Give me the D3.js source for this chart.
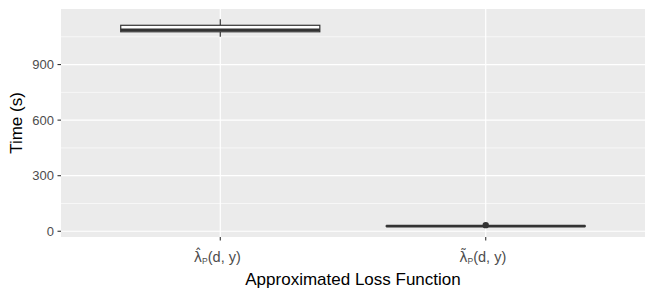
<!DOCTYPE html>
<html>
<head>
<meta charset="utf-8">
<script src="https://cdn.jsdelivr.net/npm/d3@7"></script>
<style>
  body { margin: 0; background: #fff; }
  svg { display: block; }
</style>
</head>
<body>
<div id="chart"></div>
<script>
// categories: lambda with a combining hat / tilde
const categories = ["λ\u0302", "λ\u0303"];
// box statistics (seconds)
const whiskerLow = [1050, 25];
const q1 = [1077, 27];
const median = [1087, 28];
const q3 = [1112, 29];
const whiskerHigh = [1144, 31];
const outliers = [[], [33]];
const yTicks = [0, 300, 600, 900];
const yMinor = [150, 450, 750, 1050];

const width = 654;
const height = 298;
const margin = { top: 9, right: 9, bottom: 61, left: 61 };
const font = "'Liberation Sans', Arial, Helvetica, sans-serif";

const svg = d3.select("#chart").append("svg")
  .attr("width", width)
  .attr("height", height)
  .attr("font-family", font);

const x = d3.scalePoint()
  .domain(categories)
  .range([margin.left, width - margin.right])
  .padding(0.6); // ggplot discrete expansion of 0.6 each side

const dataMin = d3.min(whiskerLow);
const dataMax = d3.max(whiskerHigh);
const pad = (dataMax - dataMin) * 0.05;
const y = d3.scaleLinear()
  .domain([dataMin - pad, dataMax + pad])
  .range([height - margin.bottom, margin.top]);

const step = x.step();
const boxW = step * 0.75;

// panel
svg.append("rect")
  .attr("x", margin.left)
  .attr("y", margin.top)
  .attr("width", width - margin.left - margin.right)
  .attr("height", height - margin.top - margin.bottom)
  .attr("fill", "#ebebeb");

const grid = svg.append("g").attr("stroke", "#fff");
grid.selectAll(".minor").data(yMinor).join("line")
  .attr("x1", margin.left).attr("x2", width - margin.right)
  .attr("y1", (d) => y(d)).attr("y2", (d) => y(d))
  .attr("stroke-width", 0.6);
grid.selectAll(".major").data(yTicks).join("line")
  .attr("x1", margin.left).attr("x2", width - margin.right)
  .attr("y1", (d) => y(d)).attr("y2", (d) => y(d))
  .attr("stroke-width", 1.2);
grid.selectAll(".vert").data(categories).join("line")
  .attr("x1", (d) => x(d)).attr("x2", (d) => x(d))
  .attr("y1", margin.top).attr("y2", height - margin.bottom)
  .attr("stroke-width", 1.2);

// boxes
const boxes = svg.append("g")
  .selectAll("g")
  .data(categories)
  .join("g");

boxes.append("line")
  .attr("x1", (d) => x(d)).attr("x2", (d) => x(d))
  .attr("y1", (d, i) => y(whiskerLow[i])).attr("y2", (d, i) => y(q1[i]))
  .attr("stroke", "#333").attr("stroke-width", 1.2);
boxes.append("line")
  .attr("x1", (d) => x(d)).attr("x2", (d) => x(d))
  .attr("y1", (d, i) => y(q3[i])).attr("y2", (d, i) => y(whiskerHigh[i]))
  .attr("stroke", "#333").attr("stroke-width", 1.2);
boxes.append("rect")
  .attr("x", (d) => x(d) - boxW / 2)
  .attr("width", boxW)
  .attr("y", (d, i) => y(q3[i]))
  .attr("height", (d, i) => Math.max(0, y(q1[i]) - y(q3[i])))
  .attr("fill", "#fff")
  .attr("stroke", "#333").attr("stroke-width", 1.2);
boxes.append("line")
  .attr("x1", (d) => x(d) - boxW / 2).attr("x2", (d) => x(d) + boxW / 2)
  .attr("y1", (d, i) => y(median[i])).attr("y2", (d, i) => y(median[i]))
  .attr("stroke", "#333").attr("stroke-width", 2.6);
boxes.selectAll("circle")
  .data((d, i) => outliers[i].map((v) => ({ cat: d, v })))
  .join("circle")
  .attr("cx", (d) => x(d.cat))
  .attr("cy", (d) => y(d.v))
  .attr("r", 3.2)
  .attr("fill", "#333");

// y axis
const yAxis = svg.append("g");
yAxis.selectAll("line").data(yTicks).join("line")
  .attr("x1", margin.left - 3.5).attr("x2", margin.left)
  .attr("y1", (d) => y(d)).attr("y2", (d) => y(d))
  .attr("stroke", "#333").attr("stroke-width", 1.1);
yAxis.selectAll("text").data(yTicks).join("text")
  .attr("x", margin.left - 7)
  .attr("y", (d) => y(d))
  .attr("dy", "0.35em")
  .attr("text-anchor", "end")
  .attr("font-size", 13)
  .attr("fill", "#4d4d4d")
  .text((d) => d);

// x axis
const xAxis = svg.append("g");
const base = height - margin.bottom;
xAxis.selectAll("line").data(categories).join("line")
  .attr("x1", (d) => x(d)).attr("x2", (d) => x(d))
  .attr("y1", base).attr("y2", base + 3.5)
  .attr("stroke", "#333").attr("stroke-width", 1.1);

// label: accented lambda, subscript P, then (d, y)
const lbl = xAxis.selectAll("text").data(categories).join("text")
  .attr("x", (d) => x(d) - 3)
  .attr("y", base + 25)
  .attr("text-anchor", "middle")
  .attr("fill", "#4d4d4d")
  .attr("font-size", 14.5);
lbl.append("tspan")
  .attr("font-family", "'DejaVu Sans'")
  .attr("font-size", 14)
  .text((d) => d);
lbl.append("tspan").attr("font-size", 8.5).attr("dy", 2).text("P");
lbl.append("tspan").attr("dy", -2).text("(d, y)");

// titles
svg.append("text")
  .attr("x", (margin.left + width - margin.right) / 2)
  .attr("y", 285)
  .attr("text-anchor", "middle")
  .attr("font-size", 17)
  .attr("fill", "#000")
  .text("Approximated Loss Function");

svg.append("text")
  .attr("transform", `translate(22,${(margin.top + height - margin.bottom) / 2}) rotate(-90)`)
  .attr("text-anchor", "middle")
  .attr("font-size", 17)
  .attr("fill", "#000")
  .text("Time (s)");
</script>
</body>
</html>
